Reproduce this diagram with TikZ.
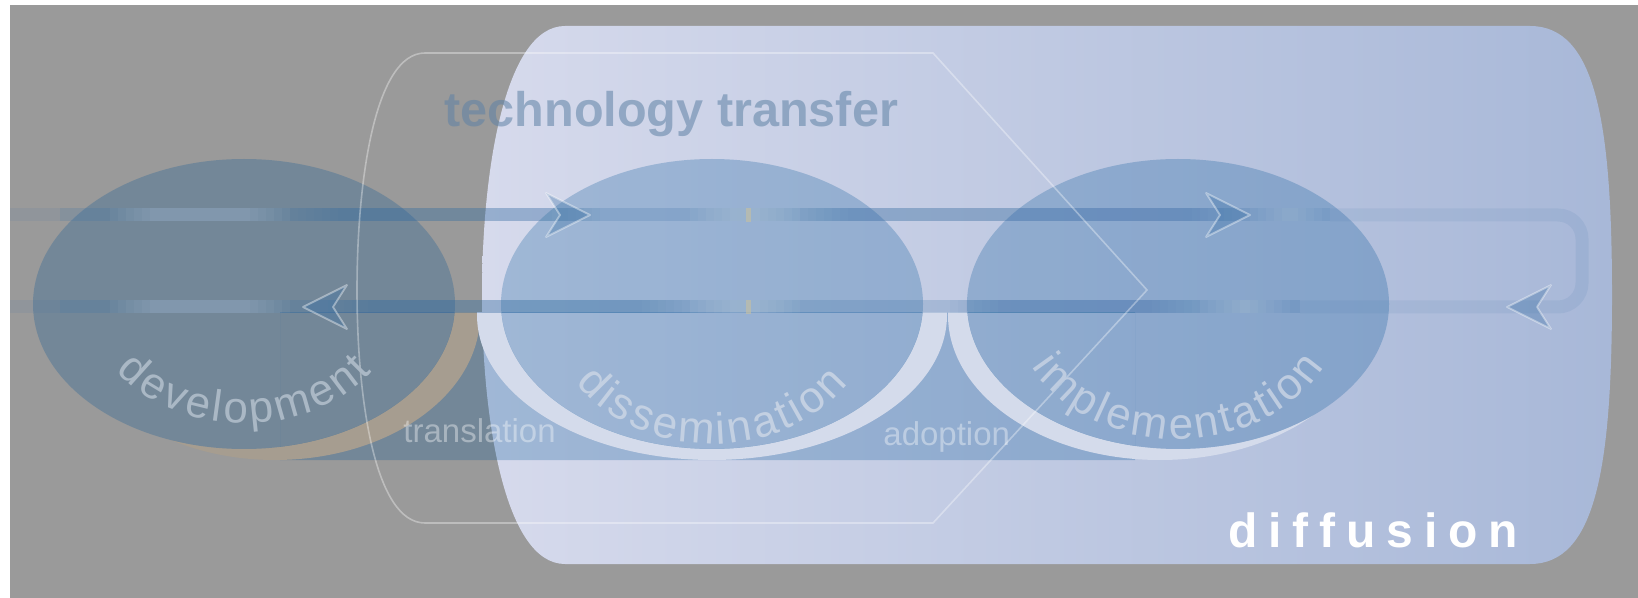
\documentclass[tikz,border=0pt]{standalone}
\usepackage{fontspec}
\setmainfont{Liberation Sans}
\usetikzlibrary{shapes.geometric,decorations.text,positioning}
\definecolor{bggray}{RGB}{154,154,154}
\definecolor{difL}{RGB}{214,218,236}
\definecolor{difR}{RGB}{168,184,216}
\definecolor{blobblue}{RGB}{0,82,150}
\definecolor{tubeblue}{RGB}{60,114,167}
\definecolor{ringlt}{RGB}{212,219,235}
\definecolor{ringtan}{RGB}{166,157,144}
\definecolor{ticktan}{RGB}{200,192,160}
\definecolor{ttblue}{RGB}{95,130,165}
\definecolor{devtxt}{RGB}{170,184,197}
\definecolor{disstxt}{RGB}{195,208,226}
\definecolor{impltxt}{RGB}{190,204,224}
\newcommand\ks{\kern1.6pt}
\tikzset{
  blob/.style={ellipse, draw=none, fill=blobblue, fill opacity=.25,
    minimum width=211pt, minimum height=145pt, inner sep=0pt},
  tube/.style={line width=6.5pt, draw=tubeblue, draw opacity=.22},
  arrowhd/.style={fill=tubeblue, fill opacity=.35, draw=white, draw opacity=.4,
    line width=.9pt, line join=round},
  ttline/.style={draw=white, draw opacity=.35, line width=.8pt},
  arctext/.style={decorate, decoration={text along path, text align=center,
    text color=#1}},
}

\begin{document}
\begin{tikzpicture}[x=0.5pt, y=-0.5pt]

  \newcommand\Yt{215}
  \newcommand\Yb{307}

  \useasboundingbox (0,0) rectangle (1638,598);
  \fill[white] (0,0) rectangle (1638,598);
  \fill[bggray] (10,5) rectangle (1638,598);

  % diffusion
  \shade[left color=difL, right color=difR] (565,26) -- (1530,26)
    .. controls (1595,26) and (1612,120) .. (1612,295)
    .. controls (1612,470) and (1595,564) .. (1530,564) -- (565,564)
    .. controls (505,564) and (482,420) .. (482,295)
    .. controls (482,170) and (505,26) .. (565,26) -- cycle;

  % band under the circles
  \begin{scope}
    \clip (280,313) rectangle (1135,460);
    \fill[blobblue, fill opacity=.25, even odd rule] (280,313) rectangle (1135,460)
      (244,304) ellipse[x radius=211, y radius=145]
      (712,304) ellipse[x radius=211, y radius=145]
      (1178,304) ellipse[x radius=211, y radius=145];
  \end{scope}

  % rings (lower half only, outside the circle)
  \foreach \cx/\ox/\rx/\col in {244/31/205/ringtan, 712/0/235/ringlt, 1178/-18/212/ringlt}{
    \begin{scope}
      \clip (\cx-260,313) rectangle (\cx+260,470);
      \clip (\cx+\ox,315) ellipse[x radius=\rx, y radius=145];
      \fill[\col, even odd rule] (\cx-260,300) rectangle (\cx+260,470)
        (\cx,304) ellipse[x radius=211, y radius=145];
    \end{scope}
  }

  \node[blob] (dev) at (244,304) {};
  \node[blob] (diss) at (712,304) {};
  \node[blob] (impl) at (1178,304) {};

  % tubes
  \coordinate (tl) at (60,\Yt);
  \coordinate (tr) at (1582,\Yt);
  \coordinate (br) at (1582,\Yb);
  \coordinate (bl) at (60,\Yb);
  \draw[tube] (tl) -- (1330,\Yt);
  \draw[tube] (1300,\Yb) -- (bl);
  \draw[tube, draw opacity=.1, rounded corners=12pt] (1330,\Yt) -- (tr) -- (br) -- (1300,\Yb);
  \draw[tube, draw opacity=.1] (10,\Yt) -- (tl);
  \draw[tube, draw opacity=.1] (10,\Yb) -- (bl);
  \foreach \a/\b/\y in {290/600/\Yt, 800/1240/\Yt, 320/690/\Yb, 950/1200/\Yb}
    \foreach \w in {0,8,...,48}
      \draw[tube, draw opacity=.035] (\a+\w,\y) -- (\b-\w,\y);
  \foreach \a/\b/\y in {110/290/\Yt, 690/800/\Yt, 1250/1330/\Yt, 110/290/\Yb, 690/800/\Yb, 1200/1290/\Yb}
    \foreach \w in {0,8,...,40}
      \draw[line width=6.5pt, white, draw opacity=.035] (\a+\w,\y) -- (\b-\w,\y);
  \foreach \y in {\Yt,\Yb}
    \fill[ticktan, fill opacity=.6] (746,\y-7) rectangle (751,\y+7);

  % arrow heads
  \foreach \x/\y/\d in {590/\Yt/1, 1250/\Yt/1, 303/\Yb/-1, 1507/\Yb/-1}
    \draw[arrowhd] (\x,\y) -- ++(-44*\d,-22) -- ++(14*\d,22) -- ++(-14*\d,22) -- cycle;

  % technology transfer outline
  \draw[ttline] (425,53) -- (933,53) -- (1147,290) -- (933,523) -- (425,523)
    .. controls (375,523) and (357,400) .. (357,290)
    .. controls (357,180) and (375,53) .. (425,53) -- cycle;

  % labels
  \node[anchor=base west, inner sep=0pt, text=ttblue, text opacity=.55,
    font=\fontsize{24.3}{28}\selectfont\bfseries] (tt) at (444,127) {technology transfer};
  \node[anchor=base west, inner sep=0pt, text=white,
    font=\fontsize{24}{28}\selectfont\bfseries] (diff) at (1228,547)
    {\addfontfeature{LetterSpace=22.7}diffusion};
  \node[anchor=base west, inner sep=0pt, text=white, text opacity=.38,
    font=\fontsize{16.5}{18}\selectfont] (trans) at (403,443) {translation};
  \node[anchor=base west, inner sep=0pt, text=white, text opacity=.38,
    font=\fontsize{16.5}{18}\selectfont] (adopt) at (883,445) {adoption};

  % curved names
  \path[arctext=devtxt, decoration={text={|\fontsize{22}{22}\selectfont|%
      {d\ks}{e\ks}{v\ks}{e\ks}{l\ks}{o\ks}{p\ks}{m\ks}{e\ks}{n\ks}{t}}}]
    (dev.center) ++(178:155 and 119) arc[start angle=178, end angle=2, x radius=155, y radius=119];
  \path[arctext=disstxt, decoration={text={|\fontsize{22}{22}\selectfont|%
      {d\ks}{i\ks}{s\ks}{s\ks}{e\ks}{m\ks}{i\ks}{n\ks}{a\ks}{t\ks}{i\ks}{o\ks}{n}}}]
    (diss.center) ++(178:165 and 140) arc[start angle=178, end angle=2, x radius=165, y radius=140];
  \path[arctext=impltxt, decoration={text={|\fontsize{22}{22}\selectfont|%
      {i\ks}{m\ks}{p\ks}{l\ks}{e\ks}{m\ks}{e\ks}{n\ks}{t\ks}{a\ks}{t\ks}{i\ks}{o\ks}{n}}}]
    (impl.center) ++(178:165 and 135) arc[start angle=178, end angle=2, x radius=165, y radius=135];

\end{tikzpicture}
\end{document}
